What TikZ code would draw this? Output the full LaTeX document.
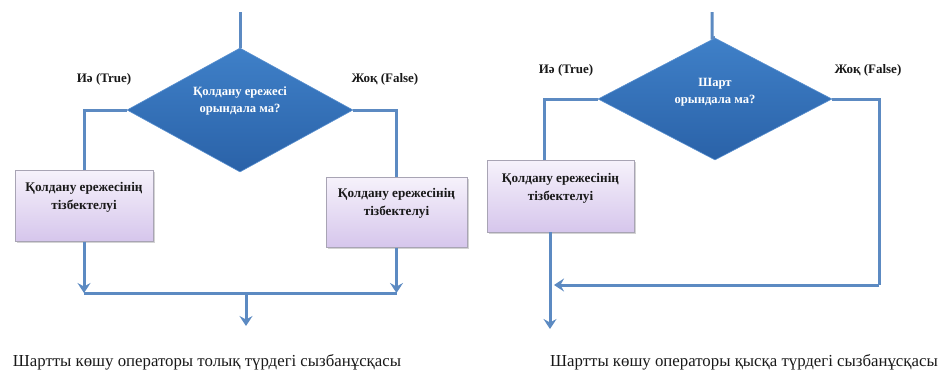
\documentclass[tikz,border=0pt]{standalone}
\usepackage{fontspec}
\setmainfont{Liberation Serif}
\usetikzlibrary{shapes.geometric,arrows.meta,shadows}
\definecolor{linec}{HTML}{5C8AC2}
\definecolor{diamtop}{HTML}{3F80C8}
\definecolor{diambot}{HTML}{2A62A8}
\definecolor{diamedge}{HTML}{5A90CF}
\definecolor{boxtop}{HTML}{F6F2FB}
\definecolor{boxbot}{HTML}{D6C6EC}
\definecolor{boxedge}{HTML}{A8A4B4}
\tikzset{
  conn/.style={draw=linec, line width=3pt},
  arr/.style={conn, -{Stealth[length=10pt,width=13pt,inset=3.5pt]}},
  decision/.style={diamond, inner sep=0pt, top color=diamtop, bottom color=diambot, draw=diamedge, line width=0.6pt},
  stepbox/.style={rectangle, inner sep=0pt, top color=boxtop, bottom color=boxbot, draw=boxedge, line width=1pt,
    drop shadow={opacity=0.35, shadow xshift=1.5pt, shadow yshift=-1.5pt}},
  difftxt/.style={font=\bfseries\fontsize{12.6}{17}\selectfont, text=white, align=center},
  boxtxt/.style={font=\bfseries\fontsize{13.2}{18}\selectfont, text=black!90, align=center},
  branch/.style={font=\bfseries\fontsize{13}{15}\selectfont, text=black!90},
  caption/.style={font=\fontsize{16.8}{18}\selectfont, text=black!90},
}
\begin{document}
\begin{tikzpicture}[x=1pt,y=-1pt]
\useasboundingbox (0,0) rectangle (945,380);
% ---------------- left diagram ----------------
\coordinate (t1) at (240,12);
\node[decision, minimum width=226pt, minimum height=124pt] (d1) at (240,110) {};
\node[difftxt] (d1t) at (240,101) {Қолдану ережесі\\орындала ма?};
\node[stepbox, minimum width=138pt, minimum height=71pt] (b1) at (84,205.5) {};
\node[boxtxt] (b1t) at (84,197) {Қолдану ережесінің\\тізбектелуі};
\node[stepbox, minimum width=141pt, minimum height=70pt] (b2) at (396.5,212) {};
\node[boxtxt] (b2t) at (396.5,203) {Қолдану ережесінің\\тізбектелуі};
\node[branch] (y1) at (104,79) {Иә (True)};
\node[branch] (n1) at (385,79) {Жоқ (False)};
\coordinate (m1) at (84,293);
\coordinate (m2) at (396.5,293);
\coordinate (m3) at (246,293);
\coordinate (e1) at (246,326);
\draw[conn] (t1) -- (d1.north);
\draw[conn] (d1.west) -| (b1.north);
\draw[conn] (d1.east) -| (b2.north);
\draw[arr] (b1.south) -- (m1);
\draw[arr] (b2.south) -- (m2);
\draw[conn] (m1) -- (m2);
\draw[arr] (m3) -- (e1);
\node[caption] (c1) at (207,362) {Шартты көшу операторы толық түрдегі сызбанұсқасы};
% ---------------- right diagram ----------------
\coordinate (t2) at (712,12);
\node[decision, minimum width=234pt, minimum height=122pt] (d2) at (715,99) {};
\node[difftxt] (d2t) at (715,92) {Шарт\\орындала ма?};
\node[stepbox, minimum width=147pt, minimum height=72pt] (b3) at (560.5,196) {};
\node[boxtxt] (b3t) at (560.5,188) {Қолдану ережесінің\\тізбектелуі};
\node[branch] (y2) at (566,70) {Иә (True)};
\node[branch] (n2) at (868,70) {Жоқ (False)};
\coordinate (k1) at (544,160);
\coordinate (k2) at (550,232);
\coordinate (k3) at (550,329);
\coordinate (k4) at (879,285);
\coordinate (k5) at (554,285);
\draw[conn] (t2) -- (712,38) -- (d2.north);
\draw[conn] (d2.west) -| (k1);
\draw[arr] (k2) -- (k3);
\draw[conn] (d2.east) -| (k4);
\draw[arr] (k4) -- (k5);
\node[caption] (c2) at (744,362) {Шартты көшу операторы қысқа түрдегі сызбанұсқасы};
\end{tikzpicture}
\end{document}
